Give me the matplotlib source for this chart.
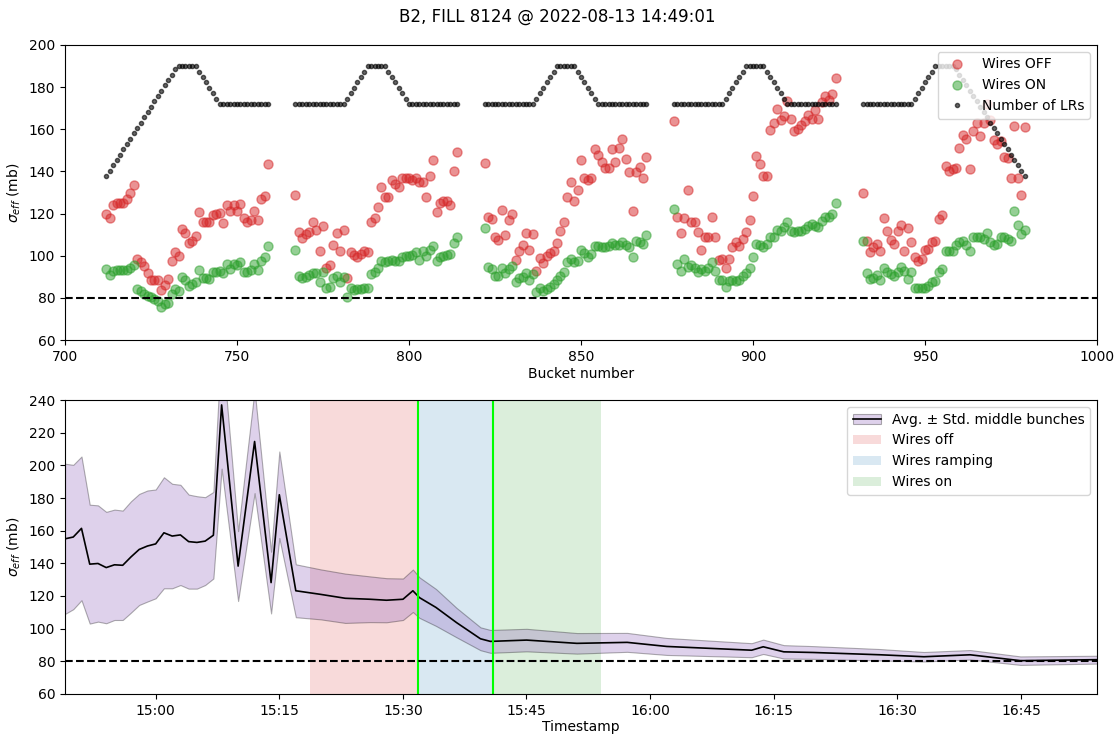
"""Effective cross-section per bunch (wires off / on) and its evolution during the fill."""

import matplotlib

matplotlib.use("Agg")
import matplotlib.dates as mdates
import matplotlib.pyplot as plt
import numpy as np
import pandas as pd
from matplotlib.lines import Line2D
from matplotlib.patches import Patch
from matplotlib.ticker import MultipleLocator

TITLE = "B2, FILL 8124 @ 2022-08-13 14:49:01"
DAY = "2022-08-13"
SIGMA_REF = 80.0

# --- bunch-by-bunch snapshot ---------------------------------------------
TRAIN_STARTS = [712, 767, 822, 877, 932]
BUNCHES_PER_TRAIN = 48

SIG_OFF = [
    [119.8, 117.8, 124.1, 125.1, 125.1, 125.1, 126.7, 129.8, 133.7, 98.4,
     96.8, 94.9, 91.7, 88.6, 88.6, 88.6, 83.8, 86.2, 88.9, 97.6,
     101.6, 100.0, 112.7, 110.6, 106.0, 107.1, 109.2, 120.6, 115.9, 115.9,
     115.9, 119.5, 119.8, 120.2, 115.7, 124.1, 121.4, 124.1, 121.4, 124.6,
     117.8, 116.2, 117.1, 121.4, 117.1, 126.7, 128.3, 143.7],
    [128.9, 111.1, 108.3, 110.3, 111.4, 115.9, 112.2, 102.1, 114.0, 94.4,
     95.6, 104.9, 110.6, 102.4, 112.2, 89.2, 101.7, 100.2, 99.2, 100.8,
     102.1, 101.7, 115.9, 117.9, 123.3, 132.5, 127.8, 127.8, 136.0, 134.1,
     132.5, 137.0, 137.0, 137.0, 135.7, 136.8, 134.9, 134.9, 128.1, 137.6,
     145.2, 120.6, 125.2, 126.2, 126.2, 124.3, 140.2, 149.0],
    [144.1, 118.3, 117.5, 108.7, 107.6, 121.9, 109.8, 117.1, 119.8, 98.1,
     102.1, 105.1, 110.8, 102.9, 110.3, 92.9, 98.9, 96.5, 100.0, 101.3,
     102.1, 106.0, 111.6, 116.2, 127.8, 135.2, 126.2, 131.0, 145.6, 136.8,
     135.7, 137.0, 150.5, 147.6, 144.4, 141.6, 141.6, 150.8, 144.4, 151.1,
     155.2, 146.0, 139.7, 121.4, 139.7, 142.1, 136.8, 146.8],
    [163.8, 118.3, 110.6, 117.9, 131.4, 115.9, 115.9, 111.1, 102.9, 108.7,
     108.7, 118.3, 108.7, 98.1, 98.4, 94.0, 98.4, 104.0, 106.3, 104.8,
     107.9, 111.4, 117.0, 128.3, 147.1, 143.7, 137.6, 137.8, 159.5, 163.0,
     169.8, 164.3, 166.3, 173.3, 164.8, 159.2, 160.3, 161.9, 163.8, 166.7,
     164.8, 169.0, 165.1, 173.0, 175.7, 173.8, 176.5, 184.1],
    [129.7, 107.1, 101.9, 104.0, 105.6, 102.4, 117.9, 111.6, 107.5, 105.6,
     111.6, 114.8, 102.4, 113.3, 106.3, 99.2, 97.6, 98.4, 102.7, 103.2,
     106.7, 107.1, 117.5, 119.5, 142.4, 140.0, 141.3, 141.6, 151.1, 157.1,
     155.2, 141.3, 159.2, 163.0, 156.7, 163.0, 172.2, 164.6, 154.8, 153.2,
     154.3, 146.8, 146.5, 136.8, 161.6, 136.8, 128.9, 161.3],
]

SIG_ON = [
    [93.7, 90.8, 92.9, 93.2, 93.2, 93.2, 93.2, 94.1, 95.7, 84.4,
     83.3, 81.7, 81.0, 80.2, 79.4, 78.6, 75.9, 77.0, 77.8, 81.7,
     84.1, 83.3, 89.7, 88.4, 85.7, 86.5, 87.3, 93.2, 89.4, 89.4,
     88.9, 92.1, 92.1, 92.9, 91.7, 96.0, 93.7, 96.3, 95.7, 96.8,
     92.5, 92.5, 93.2, 96.3, 93.3, 97.3, 99.2, 104.4],
    [102.9, 90.2, 89.4, 89.7, 90.8, 91.6, 91.7, 87.3, 92.1, 84.9,
     85.2, 89.4, 90.2, 87.3, 90.0, 80.2, 84.6, 83.7, 84.0, 84.1,
     84.6, 84.6, 91.3, 92.5, 94.1, 97.6, 96.8, 97.6, 97.9, 97.6,
     97.3, 99.5, 100.0, 100.0, 100.5, 101.6, 98.1, 102.1, 100.0, 102.9,
     104.6, 97.3, 99.2, 100.0, 100.5, 100.8, 106.2, 108.7],
    [113.0, 94.8, 93.7, 90.5, 90.5, 94.0, 91.7, 93.7, 94.9, 87.6,
     89.4, 90.0, 91.6, 88.4, 91.3, 83.0, 84.9, 83.3, 84.1, 85.2,
     86.8, 88.4, 90.2, 92.1, 96.8, 98.4, 96.8, 97.6, 102.7, 101.1,
     99.2, 100.8, 104.4, 104.8, 104.3, 104.0, 104.4, 105.9, 105.2, 105.2,
     106.3, 105.2, 104.3, 99.2, 107.1, 106.3, 105.6, 109.8],
    [122.2, 96.0, 92.9, 98.4, 94.8, 95.7, 94.4, 92.1, 93.7, 92.9,
     94.1, 96.8, 92.9, 88.4, 88.4, 85.2, 88.1, 88.4, 88.1, 88.4,
     90.2, 91.7, 94.0, 99.2, 105.6, 105.2, 104.3, 105.6, 108.7, 109.0,
     112.2, 111.6, 113.5, 115.9, 111.9, 111.1, 111.6, 111.9, 112.7, 114.3,
     115.1, 114.3, 113.5, 116.7, 118.3, 118.6, 119.8, 124.9],
    [107.1, 91.7, 88.9, 89.4, 91.0, 88.6, 94.0, 92.5, 91.3, 90.5,
     92.1, 94.8, 92.9, 88.9, 92.1, 84.9, 84.9, 84.9, 84.9, 85.7,
     87.6, 88.1, 92.1, 93.7, 102.4, 102.1, 102.1, 105.2, 106.3, 106.8,
     105.2, 102.1, 108.7, 108.7, 108.7, 107.9, 110.6, 106.7, 105.2, 105.6,
     108.7, 108.7, 107.9, 107.1, 121.4, 114.8, 110.3, 112.2],
]

# number of long-range encounters, in the same units as the cross-section axis
N_LR = [
    [137.9, 140.4, 143.0, 145.5, 148.0, 150.5, 153.1, 155.6, 158.1, 160.6,
     163.2, 165.7, 168.2, 170.7, 173.3, 175.8, 178.3, 180.8, 183.4, 185.9,
     188.4, 190.0, 190.0, 190.0, 190.0, 190.0, 190.0, 187.4, 184.9, 182.3,
     179.7, 177.1, 174.6, 172.0, 172.0, 172.0, 172.0, 172.0, 172.0, 172.0,
     172.0, 172.0, 172.0, 172.0, 172.0, 172.0, 172.0, 172.0],
    [172.0, 172.0, 172.0, 172.0, 172.0, 172.0, 172.0, 172.0, 172.0, 172.0,
     172.0, 172.0, 172.0, 172.0, 172.0, 174.6, 177.1, 179.7, 182.3, 184.9,
     187.4, 190.0, 190.0, 190.0, 190.0, 190.0, 190.0, 187.4, 184.9, 182.3,
     179.7, 177.1, 174.6, 172.0, 172.0, 172.0, 172.0, 172.0, 172.0, 172.0,
     172.0, 172.0, 172.0, 172.0, 172.0, 172.0, 172.0, 172.0],
    [172.0, 172.0, 172.0, 172.0, 172.0, 172.0, 172.0, 172.0, 172.0, 172.0,
     172.0, 172.0, 172.0, 172.0, 172.0, 174.6, 177.1, 179.7, 182.3, 184.9,
     187.4, 190.0, 190.0, 190.0, 190.0, 190.0, 190.0, 187.4, 184.9, 182.3,
     179.7, 177.1, 174.6, 172.0, 172.0, 172.0, 172.0, 172.0, 172.0, 172.0,
     172.0, 172.0, 172.0, 172.0, 172.0, 172.0, 172.0, 172.0],
    [172.0, 172.0, 172.0, 172.0, 172.0, 172.0, 172.0, 172.0, 172.0, 172.0,
     172.0, 172.0, 172.0, 172.0, 172.0, 174.6, 177.1, 179.7, 182.3, 184.9,
     187.4, 190.0, 190.0, 190.0, 190.0, 190.0, 190.0, 187.4, 184.9, 182.3,
     179.7, 177.1, 174.6, 172.0, 172.0, 172.0, 172.0, 172.0, 172.0, 172.0,
     172.0, 172.0, 172.0, 172.0, 172.0, 172.0, 172.0, 172.0],
    [172.0, 172.0, 172.0, 172.0, 172.0, 172.0, 172.0, 172.0, 172.0, 172.0,
     172.0, 172.0, 172.0, 172.0, 172.0, 174.6, 177.1, 179.7, 182.3, 184.9,
     187.4, 190.0, 190.0, 190.0, 190.0, 190.0, 190.0, 188.4, 185.9, 183.4,
     180.8, 178.3, 175.8, 173.3, 170.7, 168.2, 165.7, 163.2, 160.6, 158.1,
     155.6, 153.1, 150.5, 148.0, 145.5, 143.0, 140.4, 137.9],
]

# --- time evolution of the middle bunches -------------------------------
TIMES = [
    "14:49:01", "14:50:01", "14:51:01", "14:52:01", "14:53:01", "14:54:01",
    "14:55:01", "14:56:01", "14:57:01", "14:58:01", "14:59:01", "15:00:01",
    "15:01:01", "15:02:01", "15:03:01", "15:04:01", "15:05:01", "15:06:01",
    "15:07:01", "15:08:01", "15:10:01", "15:12:01", "15:14:01", "15:15:01",
    "15:17:01", "15:20:01", "15:23:01", "15:26:01", "15:28:01", "15:30:01",
    "15:31:13", "15:32:01", "15:34:01", "15:36:31", "15:39:25", "15:40:37",
    "15:45:01", "15:51:07", "15:57:13", "16:02:01", "16:12:19", "16:13:43",
    "16:16:13", "16:19:49", "16:27:55", "16:33:13", "16:38:49", "16:44:55",
    "16:54:13",
]
SIG_AVG = [
    155.0, 156.1, 161.4, 139.5, 139.9, 137.4, 139.1, 138.8, 143.9, 148.5,
    150.6, 151.9, 158.7, 156.7, 157.4, 153.3, 152.8, 153.6, 157.2, 237.0,
    138.3, 214.6, 128.2, 182.0, 123.2, 121.0, 118.6, 118.0, 117.4, 118.0,
    123.2, 119.0, 113.0, 103.7, 93.8, 92.2, 93.0, 91.0, 91.6, 89.1,
    86.8, 88.9, 85.8, 85.4, 84.0, 82.8, 84.0, 80.4, 81.0,
]
SIG_STD = [
    46.0, 44.2, 44.0, 36.4, 35.6, 34.1, 33.8, 33.5, 34.1, 34.0,
    34.0, 33.3, 34.0, 32.0, 30.7, 28.8, 28.3, 26.9, 26.5, 39.0,
    21.4, 31.6, 18.9, 26.5, 16.2, 15.3, 15.1, 14.0, 13.5, 12.7,
    13.0, 12.4, 11.3, 9.0, 7.0, 7.0, 6.9, 6.3, 5.8, 5.2,
    4.3, 4.4, 4.1, 3.9, 3.5, 2.9, 2.9, 2.6, 2.4,
]

PHASES = [
    ("Wires off", "15:18:45", "15:31:50", "tab:red"),
    ("Wires ramping", "15:31:50", "15:40:55", "tab:blue"),
    ("Wires on", "15:40:55", "15:54:00", "tab:green"),
]
RAMP_MARKS = ["15:31:50", "15:40:55"]


def stamp(hms):
    return pd.Timestamp(f"{DAY} {hms}")


def plot_bunches(ax):
    """Cross-section per bucket with and without wire compensation."""
    for i, start in enumerate(TRAIN_STARTS):
        buckets = np.arange(start, start + BUNCHES_PER_TRAIN)
        first = i == 0
        ax.plot(buckets, SIG_OFF[i], "o", color="tab:red", alpha=0.5, ms=6.5,
                label="Wires OFF" if first else None)
        ax.plot(buckets, SIG_ON[i], "o", color="tab:green", alpha=0.5, ms=6.5,
                label="Wires ON" if first else None)
        ax.plot(buckets, N_LR[i], "o", color="k", alpha=0.6, ms=3,
                label="Number of LRs" if first else None)
    ax.axhline(SIGMA_REF, color="k", ls="--", lw=1.5)
    ax.set_xlim(700, 1000)
    ax.set_ylim(60, 200)
    ax.set_xlabel("Bucket number", labelpad=2)
    ax.set_ylabel(r"$\sigma_{eff}$ (mb)")
    ax.legend(loc="upper right")


def plot_timeline(ax):
    """Average and spread of the middle bunches over the fill."""
    t = pd.to_datetime([f"{DAY} {s}" for s in TIMES])
    avg = np.asarray(SIG_AVG)
    std = np.asarray(SIG_STD)

    handles = []
    for label, t0, t1, color in PHASES:
        ax.axvspan(stamp(t0), stamp(t1), color=color, alpha=0.17, lw=0)
        handles.append(Patch(facecolor=color, alpha=0.17, label=label))
    ax.fill_between(t, avg - std, avg + std, facecolor="tab:purple",
                    edgecolor="k", alpha=0.3, lw=0.8)
    ax.plot(t, avg, color="k", lw=1.2)
    for hms in RAMP_MARKS:
        ax.axvline(stamp(hms), color="lime", lw=1.5)
    ax.axhline(SIGMA_REF, color="k", ls="--", lw=1.5)

    band = (Patch(facecolor="tab:purple", edgecolor="k", alpha=0.3, lw=0.8),
            Line2D([], [], color="k", lw=1.2))
    ax.legend([band] + handles,
              ["Avg. \u00b1 Std. middle bunches"] + [h.get_label() for h in handles],
              loc="upper right")

    ax.set_xlim(t[0], t[-1])
    ax.set_ylim(60, 240)
    ax.yaxis.set_major_locator(MultipleLocator(20))
    ax.xaxis.set_major_locator(mdates.MinuteLocator(byminute=[0, 15, 30, 45]))
    ax.xaxis.set_major_formatter(mdates.DateFormatter("%H:%M"))
    ax.set_xlabel("Timestamp", labelpad=1.5)
    ax.set_ylabel(r"$\sigma_{eff}$ (mb)")


def main():
    fig = plt.figure(figsize=(11.15, 7.36))
    ax_top = fig.add_axes([0.0583, 0.538, 0.9256, 0.4009])
    ax_bot = fig.add_axes([0.0583, 0.0571, 0.9256, 0.3994])
    plot_bunches(ax_top)
    plot_timeline(ax_bot)
    fig.suptitle(TITLE, y=0.99, fontsize=12)
    fig.savefig("out.png", dpi=100)
    plt.close(fig)


if __name__ == "__main__":
    main()
